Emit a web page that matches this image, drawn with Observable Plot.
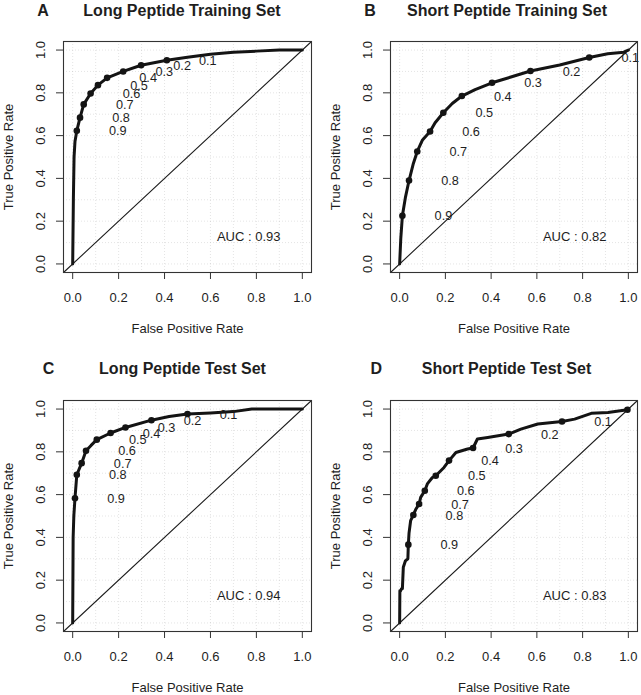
<!DOCTYPE html>
<html><head><meta charset="utf-8">
<script src="https://cdn.jsdelivr.net/npm/d3@7"></script>
<script src="https://cdn.jsdelivr.net/npm/@observablehq/plot@0.6"></script>
<style>
body{margin:0;background:#fff;}
#wrap{position:relative;width:641px;height:695px;overflow:hidden;background:#fff;}
.panel{position:absolute;}
</style></head><body><div id="wrap"></div>
<script>
// ---- data ----
const panelLetters = ["A", "B", "C", "D"];
const panelTitles = ["Long Peptide Training Set", "Short Peptide Training Set", "Long Peptide Test Set", "Short Peptide Test Set"];
const aucLabels = ["AUC : 0.93", "AUC : 0.82", "AUC : 0.94", "AUC : 0.83"];
const cutoffLabels = ["0.9", "0.8", "0.7", "0.6", "0.5", "0.4", "0.3", "0.2", "0.1"];
const tickValues = [0, 0.2, 0.4, 0.6, 0.8, 1.0];
const gridValues = [0, 0.1, 0.2, 0.3, 0.4, 0.5, 0.6, 0.7, 0.8, 0.9, 1.0];
const xAxisTitle = "False Positive Rate";
const yAxisTitle = "True Positive Rate";

// Panel A: Long Peptide Training Set
const aCurveFPR = [0, 0.003, 0.006, 0.01, 0.018, 0.032, 0.048, 0.078, 0.11, 0.15, 0.22, 0.298, 0.41, 0.5, 0.6, 0.7, 0.8, 0.9, 1];
const aCurveTPR = [0, 0.3, 0.5, 0.572, 0.623, 0.684, 0.746, 0.797, 0.836, 0.87, 0.90, 0.929, 0.952, 0.966, 0.98, 0.99, 0.995, 1.0, 1.0];
const aCutFPR = [0.018, 0.032, 0.048, 0.078, 0.11, 0.15, 0.22, 0.298, 0.41];
const aCutTPR = [0.623, 0.684, 0.746, 0.797, 0.836, 0.87, 0.90, 0.929, 0.952];

// Panel B: Short Peptide Training Set
const bCurveFPR = [0, 0.005, 0.012, 0.025, 0.041, 0.06, 0.077, 0.1, 0.133, 0.155, 0.191, 0.23, 0.272, 0.33, 0.404, 0.49, 0.572, 0.7, 0.829, 0.91, 0.98, 1];
const bCurveTPR = [0, 0.12, 0.225, 0.31, 0.39, 0.47, 0.526, 0.58, 0.619, 0.66, 0.707, 0.75, 0.785, 0.815, 0.847, 0.875, 0.902, 0.93, 0.965, 0.983, 0.99, 1];
const bCutFPR = [0.012, 0.041, 0.077, 0.133, 0.191, 0.272, 0.404, 0.572, 0.829];
const bCutTPR = [0.225, 0.39, 0.526, 0.619, 0.707, 0.785, 0.847, 0.902, 0.965];

// Panel C: Long Peptide Test Set
const cCurveFPR = [0, 0.002, 0.005, 0.01, 0.018, 0.039, 0.05, 0.058, 0.08, 0.105, 0.165, 0.23, 0.343, 0.42, 0.5, 0.6, 0.7, 0.78, 1];
const cCurveTPR = [0, 0.4, 0.5, 0.583, 0.693, 0.747, 0.78, 0.805, 0.83, 0.857, 0.888, 0.914, 0.948, 0.965, 0.977, 0.982, 0.988, 1.0, 1.0];
const cCutFPR = [0.01, 0.018, 0.039, 0.058, 0.105, 0.165, 0.23, 0.343, 0.5];
const cCutTPR = [0.583, 0.693, 0.747, 0.805, 0.857, 0.888, 0.914, 0.948, 0.977];

// Panel D: Short Peptide Test Set
const dCurveFPR = [0, 0.001, 0.004, 0.008, 0.012, 0.016, 0.025, 0.036, 0.038, 0.041, 0.048, 0.06, 0.07, 0.085, 0.092, 0.11, 0.121, 0.143, 0.158, 0.194, 0.216, 0.246, 0.297, 0.321, 0.34, 0.385, 0.477, 0.53, 0.604, 0.71, 0.765, 0.838, 0.911, 0.996, 1];
const dCurveTPR = [0, 0.15, 0.15, 0.16, 0.16, 0.26, 0.29, 0.30, 0.366, 0.42, 0.478, 0.505, 0.53, 0.556, 0.587, 0.618, 0.65, 0.68, 0.688, 0.727, 0.759, 0.797, 0.813, 0.818, 0.86, 0.867, 0.883, 0.906, 0.93, 0.942, 0.953, 0.98, 0.984, 0.997, 1];
const dCutFPR = [0.038, 0.06, 0.085, 0.11, 0.158, 0.216, 0.321, 0.477, 0.71];
const dCutTPR = [0.366, 0.505, 0.556, 0.618, 0.688, 0.759, 0.818, 0.883, 0.942];
// unlabeled marker at the curve's top end in panel D
const dEndFPR = [0.996];
const dEndTPR = [0.997];

// ---- layout ----
const FONT = '"Liberation Sans", Arial, Helvetica, sans-serif';
const INK = "#1e1e1e";
const domain = [-0.04, 1.04];
const layouts = [
  {left: 0,   top: 0,   width: 320, height: 340, mt: 41, mr: 9, mb: 68, ml: 63, titleDx: -5.5, letterDx: -20.5, titleDy: -31},
  {left: 320, top: 0,   width: 321, height: 340, mt: 41, mr: 4, mb: 68, ml: 70, titleDx: -7,   letterDx: -20.5, titleDy: -31},
  {left: 0,   top: 340, width: 320, height: 355, mt: 60, mr: 9, mb: 64, ml: 63, titleDx: -5,   letterDx: -15,   titleDy: -32},
  {left: 320, top: 340, width: 321, height: 355, mt: 60, mr: 4, mb: 64, ml: 70, titleDx: -7.5, letterDx: -14.3, titleDy: -32}
];
const curves = [[aCurveFPR, aCurveTPR], [bCurveFPR, bCurveTPR], [cCurveFPR, cCurveTPR], [dCurveFPR, dCurveTPR]];
const cuts = [[aCutFPR, aCutTPR], [bCutFPR, bCutTPR], [cCutFPR, cCutTPR], [dCutFPR, dCutTPR]];
const extras = [[[], []], [[], []], [[], []], [dEndFPR, dEndTPR]];

const wrap = document.getElementById("wrap");
const fmt = d3.format(".1f");

layouts.forEach((L, k) => {
  const curve = curves[k][0].map((x, i) => ({x, y: curves[k][1][i]}));
  const pts = cuts[k][0].map((x, i) => ({x, y: cuts[k][1][i], label: cutoffLabels[i]}));
  const extra = extras[k][0].map((x, i) => ({x, y: extras[k][1][i]}));
  const chart = Plot.plot({
    width: L.width, height: L.height,
    marginTop: L.mt, marginRight: L.mr, marginBottom: L.mb, marginLeft: L.ml,
    x: {domain}, y: {domain},
    style: {fontFamily: FONT, fontSize: "13px", color: INK, background: "transparent", overflow: "visible"},
    marks: [
      Plot.gridX(gridValues, {stroke: "#999", strokeOpacity: 0.25, strokeDasharray: "1,2"}),
      Plot.gridY(gridValues, {stroke: "#999", strokeOpacity: 0.25, strokeDasharray: "1,2"}),
      Plot.line(domain, {x: d => d, y: d => d, stroke: INK, strokeWidth: 1.1}),
      Plot.line(curve, {x: "x", y: "y", stroke: "#141414", strokeWidth: 3, strokeLinejoin: "round"}),
      Plot.dot(pts, {x: "x", y: "y", r: 3.3, fill: "#141414", stroke: "none"}),
      Plot.dot(extra, {x: "x", y: "y", r: 3.3, fill: "#141414", stroke: "none"}),
      Plot.text(pts, {x: "x", y: "y", text: "label", dx: 41, dy: 0.5, textAnchor: "middle", lineAnchor: "middle", fontSize: 12.7, fill: INK}),
      Plot.text([aucLabels[k]], {frameAnchor: "bottom-right", dx: -31, dy: -36, textAnchor: "end", lineAnchor: "middle", fontSize: 13, fill: INK}),
      Plot.frame({stroke: "#333", strokeWidth: 1.1}),
      Plot.axisX({ticks: tickValues, tickSize: 7, tickPadding: 13, tickFormat: fmt, label: null, fontSize: 13, stroke: "#333", fill: INK}),
      Plot.axisY({ticks: tickValues, tickSize: 7, tickFormat: () => "", label: null, stroke: "#333"}),
      Plot.text(tickValues, {y: d => d, text: d => fmt(d), frameAnchor: "left", dx: -22.5, rotate: -90, textAnchor: "middle", lineAnchor: "middle", fontSize: 13, fill: INK}),
      Plot.text([yAxisTitle], {frameAnchor: "left", dx: -55, rotate: -90, textAnchor: "middle", lineAnchor: "middle", fontSize: 13, fill: INK}),
      Plot.text([xAxisTitle], {frameAnchor: "bottom", dy: 56, textAnchor: "middle", lineAnchor: "middle", fontSize: 13, fill: INK}),
      Plot.text([panelTitles[k]], {frameAnchor: "top", dx: L.titleDx, dy: L.titleDy, textAnchor: "middle", lineAnchor: "middle", fontSize: 16, fontWeight: "bold", fill: INK}),
      Plot.text([panelLetters[k]], {frameAnchor: "top-left", dx: L.letterDx, dy: L.titleDy, textAnchor: "middle", lineAnchor: "middle", fontSize: 16, fontWeight: "bold", fill: INK})
    ]
  });
  const div = document.createElement("div");
  div.className = "panel";
  div.style.left = L.left + "px";
  div.style.top = L.top + "px";
  div.appendChild(chart);
  wrap.appendChild(div);
});
</script>
</body></html>
